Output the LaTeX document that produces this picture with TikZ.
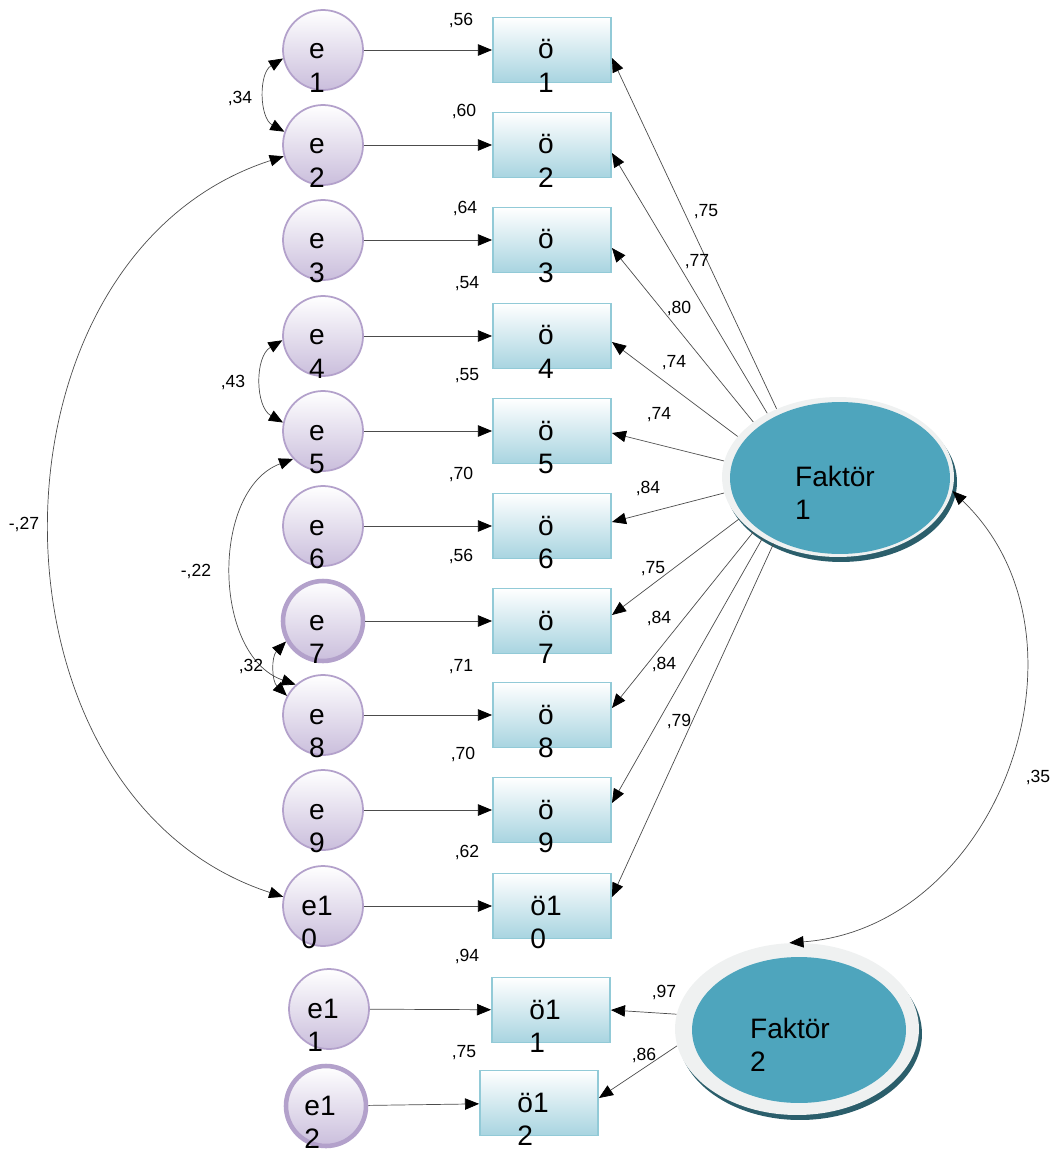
\documentclass[tikz,border=0pt]{standalone}
\usepackage{fontspec}
\setmainfont{Liberation Sans}
\usetikzlibrary{arrows.meta,shapes.geometric,calc,shadows}

\definecolor{errline}{HTML}{B3A1CB}
\definecolor{errfill}{HTML}{CABEDC}
\definecolor{obsline}{HTML}{92CAD7}
\definecolor{obsfill}{HTML}{A8D4E0}
\definecolor{factring}{HTML}{EFF1F1}
\definecolor{factteal}{HTML}{4EA5BD}
\definecolor{factshade}{HTML}{2B5E6B}

\newcommand{\nodefont}{\fontsize{16}{19}\selectfont}
\newcommand{\twoline}[3][-0.12cm]{\makebox[0pt]{\hspace*{#1}\hspace*{#1}\smash{\raisebox{-0.32em}{\begin{tabular}[t]{@{}l@{}}#2\\#3\end{tabular}}}}}

\tikzset{
  errvar/.style={circle, draw=errline, line width=1pt, top color=white, bottom color=errfill, minimum size=1.6cm, inner sep=0pt, font=\nodefont},
  errthick/.style={errvar, line width=2.6pt},
  obsvar/.style={rectangle, draw=obsline, line width=1.1pt, top color=white, bottom color=obsfill, minimum width=2.36cm, minimum height=1.3cm, inner sep=0pt, font=\nodefont},
  factor/.style 2 args={ellipse, fill=factring, inner sep=0pt, font=\nodefont,
    drop shadow={shadow xshift=0.06cm, shadow yshift=-0.1cm, fill=factshade, opacity=1},
    path picture={\fill[factteal] ([xshift=0.04cm,yshift=-0.02cm]path picture bounding box.center) ellipse [x radius=#1, y radius=#2];}},
  coef/.style={font=\fontsize{10}{11}\selectfont, inner sep=0pt},
  conn/.style={-{Triangle[length=8pt,width=6.5pt,color=black]}, draw=black!70, line width=0.4pt},
  cov/.style={{Triangle[length=8pt,width=6.5pt,color=black]}-{Triangle[length=8pt,width=6.5pt,color=black]}, draw=black!70, line width=0.4pt}
}

\begin{document}
\begin{tikzpicture}[x=0.02cm, y=-0.02cm]
                \useasboundingbox (0,0) rectangle (1057,1149);

                \node[errvar] (e1) at (323,50) {\twoline{e}{1}};
                \node[errvar] (e2) at (323,145) {\twoline{e}{2}};
                \node[errvar] (e3) at (323,240) {\twoline{e}{3}};
                \node[errvar] (e4) at (323,336) {\twoline{e}{4}};
                \node[errvar] (e5) at (323,431) {\twoline{e}{5}};
                \node[errvar] (e6) at (323,526) {\twoline{e}{6}};
                \node[errthick] (e7) at (323,621) {\twoline{e}{7}};
                \node[errvar] (e8) at (323,715) {\twoline{e}{8}};
                \node[errvar] (e9) at (323,810) {\twoline{e}{9}};
                \node[errvar] (e10) at (323,906) {\twoline{e1}{0}};
                \node[errvar] (e11) at (329,1009) {\twoline{e1}{1}};
                \node[errthick] (e12) at (326,1106) {\twoline{e1}{2}};

                \node[obsvar] (o1) at (552,50) {\twoline{ö}{1}};
                \node[obsvar] (o2) at (552,145) {\twoline{ö}{2}};
                \node[obsvar] (o3) at (552,240) {\twoline{ö}{3}};
                \node[obsvar] (o4) at (552,336) {\twoline{ö}{4}};
                \node[obsvar] (o5) at (552,431) {\twoline{ö}{5}};
                \node[obsvar] (o6) at (552,526) {\twoline{ö}{6}};
                \node[obsvar] (o7) at (552,621) {\twoline{ö}{7}};
                \node[obsvar] (o8) at (552,715) {\twoline{ö}{8}};
                \node[obsvar] (o9) at (552,810) {\twoline{ö}{9}};
                \node[obsvar] (o10) at (552,906) {\twoline{ö1}{0}};
                \node[obsvar] (o11) at (551,1010) {\twoline{ö1}{1}};
                \node[obsvar] (o12) at (539,1103) {\twoline{ö1}{2}};

                \node[factor={2.2cm}{1.52cm}, minimum width=4.64cm, minimum height=3.2cm] (F1) at (838,477) {\twoline[-0.06cm]{Faktör}{1}};
                \node[factor={2.14cm}{1.46cm}, minimum width=4.88cm, minimum height=3.44cm] (F2) at (797,1029) {\twoline[-0.14cm]{Faktör}{2}};

                \draw[conn] (e1) -- (o1);
                \draw[conn] (e2) -- (o2);
                \draw[conn] (e3) -- (o3);
                \draw[conn] (e4) -- (o4);
                \draw[conn] (e5) -- (o5);
                \draw[conn] (e6) -- (o6);
                \draw[conn] (e7) -- (o7);
                \draw[conn] (e8) -- (o8);
                \draw[conn] (e9) -- (o9);
                \draw[conn] (e10) -- (o10);
                \draw[conn] (e11) -- (o11);
                \draw[conn] (e12) -- (o12);

                \draw[conn] (F1.132) -- ($(o1.east)+(0,8)$);
                \draw[conn] (F1.138) -- ($(o2.east)+(0,8)$);
                \draw[conn] (F1.147) -- ($(o3.east)+(0,8)$);
                \draw[conn] (F1.158) -- ($(o4.east)+(0,6)$);
                \draw[conn] (F1.172) -- ($(o5.east)+(0,2)$);
                \draw[conn] (F1.188) -- ($(o6.east)+(0,-4)$);
                \draw[conn] (F1.203) -- ($(o7.east)+(0,-6)$);
                \draw[conn] (F1.213) -- ($(o8.east)+(0,-7)$);
                \draw[conn] (F1.219) -- ($(o9.east)+(0,-7)$);
                \draw[conn] (F1.226) -- ($(o10.east)+(0,-9)$);
                \draw[conn] (F2.173) -- (o11.east);
                \draw[conn] (F2.188) -- ($(o12.east)+(0,-5)$);

                \draw[cov] (e1.192) to[bend right=60] (e2.161);
                \draw[cov] (e4.186) to[bend right=60] (e5.168);
                \draw[cov] (e5.223) to[bend right=70] (e8.132);
                \draw[cov] (e7.209) to[bend right=45] (e8.152);
                \draw[cov] (e2.196) to[bend right=72, looseness=1.13] (e10.167);
                \draw[cov] (F1.-7) to[bend left=66, looseness=1.12] (F2.95);

                \node[coef] (r1) at (461,20) {,56};
                \node[coef] (r2) at (464,111) {,60};
                \node[coef] (r3) at (465,208) {,64};
                \node[coef] (r4) at (467,284) {,54};
                \node[coef] (r5) at (467,376) {,55};
                \node[coef] (r6) at (461,474) {,70};
                \node[coef] (r7) at (461,556) {,56};
                \node[coef] (r8) at (461,667) {,71};
                \node[coef] (r9) at (463,754) {,70};
                \node[coef] (r10) at (467,852) {,62};
                \node[coef] (r11) at (467,956) {,94};
                \node[coef] (r12) at (464,1053) {,75};

                \node[coef] (w1) at (706,212) {,75};
                \node[coef] (w2) at (697,262) {,77};
                \node[coef] (w3) at (679,308) {,80};
                \node[coef] (w4) at (674,363) {,74};
                \node[coef] (w5) at (659,415) {,74};
                \node[coef] (w6) at (648,488) {,84};
                \node[coef] (w7) at (653,569) {,75};
                \node[coef] (w8) at (659,618) {,84};
                \node[coef] (w9) at (664,664) {,84};
                \node[coef] (w10) at (679,721) {,79};
                \node[coef] (w11) at (664,992) {,97};
                \node[coef] (w12) at (644,1055) {,86};

                \node[coef] (c12) at (240,98) {,34};
                \node[coef] (c45) at (233,382) {,43};
                \node[coef] (c58) at (196,571) {-,22};
                \node[coef] (c78) at (251,666) {,32};
                \node[coef] (c210) at (24,524) {-,27};
                \node[coef] (cF) at (1038,777) {,35};
\end{tikzpicture}
\end{document}
